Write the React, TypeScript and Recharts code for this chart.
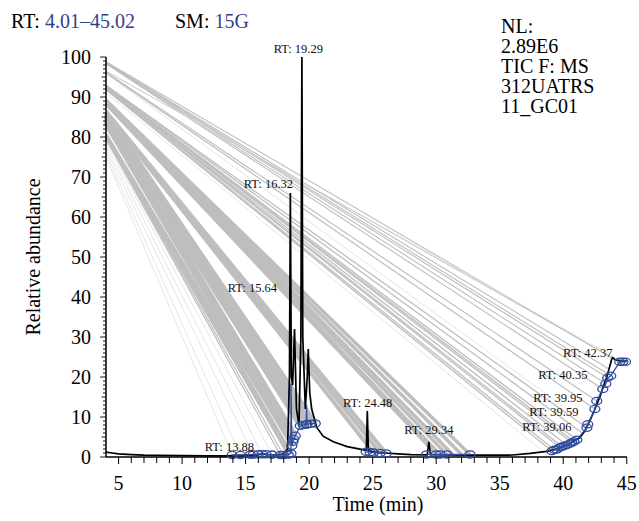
import { ComposedChart, Line, Scatter, XAxis, YAxis } from 'recharts';

const FONT = '"Liberation Serif", "Times New Roman", serif';
const BLUE = '#2f4c9e';
const GRAY = '#bebebe';
const LIGHT = '#dedede';

// chromatogram trace: [time (min), relative abundance]
const TRACE: [number, number][] = [
  [4.01, 1.2], [4.5, 1.0], [5, 0.8], [6, 0.6], [7, 0.45], [8, 0.4], [10, 0.35], [12, 0.3],
  [13.5, 0.3], [14, 0.35], [15, 0.4], [16, 0.5], [16.3, 0.9], [16.6, 0.6], [17.5, 0.5],
  [18.0, 0.8], [18.3, 2], [18.45, 20], [18.52, 66], [18.6, 20], [18.7, 18], [18.85, 32],
  [19.0, 12], [19.2, 8], [19.35, 30], [19.43, 100], [19.5, 30], [19.7, 12], [19.85, 20],
  [19.93, 27], [20.05, 16], [20.2, 12], [20.6, 7.4], [21.1, 5.2], [21.9, 3.8], [23.0, 2.6],
  [24.3, 1.8], [24.5, 1.7], [24.58, 11.5], [24.66, 1.6], [25, 1.3], [26, 1.0], [27, 0.8],
  [28, 0.6], [29.3, 0.55], [29.42, 3.8], [29.55, 0.6], [31, 0.5], [33, 0.45], [35, 0.45],
  [36, 0.5], [37.4, 0.9], [38.7, 1.4], [39.5, 2.0], [40.3, 3.0], [41.3, 4.8], [41.7, 6.5],
  [42.09, 9], [42.5, 12], [42.88, 15], [43.2, 18], [43.43, 20], [43.65, 22.5], [43.82, 24.5],
  [43.9, 24.8], [44.1, 24.3], [44.5, 24], [45.02, 24],
];

// fitted baseline points (circles); null breaks the line, third field 1 = no marker
const BASELINE: [number, number | null, number?][] = [
  [13.94, 0.5], [14.59, 0.5], [15.37, 0.6], [15.6, 0.6], [16.0, 0.7], [16.3, 0.7], [16.6, 0.7],
  [17.08, 0.6], [17.73, 0.5], [17.97, 0.5], [18.36, 0.6], [18.57, 0.9], [18.57, 18.3, 1],
  [18.64, 2.8], [18.72, 3.8], [18.78, 4.5], [18.91, 5.3], [19.3, 7.8], [19.55, 8.0], [19.77, 8.1],
  [19.8, 13, 1], [19.83, 8.2], [20.09, 8.3], [20.48, 8.4], [22, null],
  [24.49, 1.3], [24.8, 1.2], [25.06, 1.1], [25.59, 1.0], [26.06, 0.9], [27, null],
  [29.25, 0.65], [29.99, 0.65], [30.3, 0.65], [30.83, 0.65], [32.66, 0.65], [35, null],
  [39.11, 1.5], [39.3, 1.8], [39.5, 1.9], [39.73, 2.4], [39.9, 2.6], [40.1, 2.8], [40.28, 3.0],
  [40.5, 3.3], [40.68, 3.6], [40.85, 3.9], [41.07, 4.3], [41.86, 7.3], [41.93, 8.2], [42.49, 12],
  [42.64, 14], [43.11, 17], [43.35, 18.3], [43.5, 19.8], [43.74, 20.3], [44.45, 23.8],
  [44.69, 23.8], [44.9, 23.8],
];

// stray connector lines: [abundance at left edge, end time, end abundance, stroke width, light?]
const CONNECTORS: [number, number, number, number, number][] = [
  // from ~98.6
  [98.8, 43.9, 24.6, 1.1, 0], [98.7, 43.6, 22.0, 1.1, 0], [98.6, 43.74, 20.3, 1.1, 0],
  [98.5, 43.5, 19.8, 1.1, 0], [98.4, 43.35, 18.3, 1.1, 0], [98.3, 43.11, 17.0, 1.1, 0],
  // from ~96.3
  [96.5, 44.45, 23.8, 1.0, 0], [96.4, 44.69, 23.8, 0.8, 1], [96.2, 42.64, 14, 1.2, 0],
  [96.0, 42.49, 12, 1.2, 0], [95.8, 41.93, 8.2, 0.8, 1],
  // from ~92.6
  [92.9, 41.86, 7.3, 1.3, 0], [92.8, 41.5, 6.0, 1.3, 0], [92.7, 41.07, 4.3, 1.3, 0],
  [92.6, 40.85, 3.9, 1.3, 0], [92.5, 40.68, 3.6, 1.3, 0], [92.4, 40.28, 3.0, 1.3, 0],
  [92.3, 39.9, 2.6, 1.3, 0], [92.2, 39.73, 2.4, 1.3, 0], [92.0, 39.3, 1.8, 1.3, 0],
  [91.8, 39.11, 1.5, 1.3, 0], [91.0, 38.5, 1.1, 0.8, 1],
  // from ~88.8
  [89.2, 32.66, 0.65, 3.5, 0], [89.0, 32.0, 0.6, 3.5, 0], [88.8, 31.3, 0.6, 3.5, 0],
  [88.6, 30.83, 0.65, 3.5, 0], [88.4, 30.3, 0.65, 3, 0], [88.2, 29.99, 0.65, 3, 0],
  // from ~86 (wide band)
  [86.4, 26.06, 0.9, 4, 0], [86.2, 25.59, 1.0, 4, 0], [86.0, 25.06, 1.1, 4, 0],
  [85.8, 20.48, 8.4, 5, 0], [85.5, 20.09, 8.3, 5, 0], [85.2, 19.77, 8.1, 5, 0],
  [84.9, 19.55, 8.0, 5, 0], [84.6, 19.3, 7.8, 5, 0], [84.2, 18.91, 5.3, 5, 0],
  [83.8, 18.78, 4.5, 5, 0], [83.4, 18.72, 3.8, 5, 0],
  // from ~80
  [80.6, 18.64, 2.8, 3.5, 0], [80.3, 18.57, 0.9, 3.5, 0], [80.0, 18.36, 0.6, 3, 0],
  [79.8, 17.97, 0.5, 1.2, 0], [79.6, 17.73, 0.5, 1.2, 0],
  [79.0, 17.08, 0.6, 0.8, 1], [78.0, 16.3, 0.7, 0.8, 1], [77.0, 15.6, 0.6, 0.8, 1],
  [76.0, 14.59, 0.5, 0.8, 1], [75.0, 13.94, 0.5, 0.8, 1],
];

// peak annotations, anchored under the text
const RT_LABELS = [
  { label: 'RT: 19.29', t: 19.15, v: 99.9 },
  { label: 'RT: 16.32', t: 16.79, v: 66.2 },
  { label: 'RT: 15.64', t: 15.53, v: 40.2 },
  { label: 'RT: 13.88', t: 13.72, v: 0.4 },
  { label: 'RT: 24.48', t: 24.61, v: 11.5 },
  { label: 'RT: 29.34', t: 29.42, v: 4.85 },
  { label: 'RT: 39.06', t: 38.71, v: 5.4 },
  { label: 'RT: 39.59', t: 39.26, v: 9.2 },
  { label: 'RT: 39.95', t: 39.58, v: 12.7 },
  { label: 'RT: 40.35', t: 39.97, v: 18.4 },
  { label: 'RT: 42.37', t: 41.93, v: 24.0 },
];

const X_TICKS = Array.from({ length: 41 }, (_, i) => 5 + i);
const Y_TICKS = Array.from({ length: 101 }, (_, i) => i);
const INFO_LINES = ['NL:', '2.89E6', 'TIC F: MS', '312UATRS', '11_GC01'];

const traceData = TRACE.map(([t, v]) => ({ t, v }));
const baselineData = BASELINE.map(([t, v, s]) => ({ t, v, s: s ? 1 : 0 }));

function XTick(props: any) {
  const { x, y, payload } = props;
  const v = payload.value;
  const major = v % 5 === 0;
  return (
    <g>
      <line x1={x} x2={x} y1={y} y2={y + (major ? 7 : 6)} stroke="#000" strokeWidth={1} />
      {major && (
        <text x={x} y={y + 33} textAnchor="middle" fontSize={20} fontFamily={FONT} fill="#000">
          {v}
        </text>
      )}
    </g>
  );
}

function YTick(props: any) {
  const { x, y, payload } = props;
  const v = payload.value;
  const len = v % 10 === 0 ? 6 : v % 5 === 0 ? 4.5 : 3;
  return (
    <g>
      <line x1={x - len} x2={x} y1={y} y2={y} stroke="#000" strokeWidth={0.9} />
      {v % 10 === 0 && (
        <text x={x - 15} y={y + 7} textAnchor="end" fontSize={20} fontFamily={FONT} fill="#000">
          {v}
        </text>
      )}
    </g>
  );
}

function Ring(props: any) {
  const { cx, cy, payload, index } = props;
  if (cy == null || payload.v == null || payload.s) return <g key={`d-${index}`} />;
  return (
    <ellipse key={`d-${index}`} cx={cx} cy={cy} rx={5} ry={3.6} fill="none" stroke={BLUE} strokeWidth={1.3} />
  );
}

function RtText(props: any) {
  const { cx, cy, payload } = props;
  return (
    <text x={cx} y={cy - 4} textAnchor="middle" fontSize={12.5} fontFamily={FONT} fill="#111">
      {payload.label}
    </text>
  );
}

export default function App() {
  return (
    <div style={{ position: 'absolute', left: 0, top: 0, width: 639, height: 521, background: '#fff' }}>
      <ComposedChart width={639} height={521} margin={{ top: 57, right: 12, left: 0, bottom: 0 }}>
        <XAxis
          type="number"
          dataKey="t"
          domain={[4.01, 45.02]}
          ticks={X_TICKS}
          interval={0}
          tickSize={0}
          tickMargin={0}
          tickLine={false}
          tick={<XTick />}
          axisLine={{ stroke: '#000', strokeWidth: 1.5 }}
          height={64}
        />
        <YAxis
          type="number"
          dataKey="v"
          domain={[0, 100]}
          ticks={Y_TICKS}
          interval={0}
          tickSize={0}
          tickMargin={0}
          tickLine={false}
          tick={<YTick />}
          axisLine={{ stroke: '#000', strokeWidth: 1.5 }}
          width={106}
        />
        {CONNECTORS.map(([s, et, ev, w, light], i) => (
          <Line
            key={`c-${i}`}
            data={[{ t: 4.01, v: s }, { t: et, v: ev }]}
            dataKey="v"
            type="linear"
            stroke={light ? LIGHT : GRAY}
            strokeWidth={w}
            dot={false}
            activeDot={false}
            isAnimationActive={false}
          />
        ))}
        <Line
          data={traceData}
          dataKey="v"
          type="linear"
          stroke="#000"
          strokeWidth={1.7}
          dot={false}
          activeDot={false}
          isAnimationActive={false}
        />
        <Line
          data={baselineData}
          dataKey="v"
          type="linear"
          stroke={BLUE}
          strokeWidth={1.3}
          dot={<Ring />}
          activeDot={false}
          isAnimationActive={false}
        />
        <Scatter data={RT_LABELS} dataKey="v" shape={<RtText />} isAnimationActive={false} />
      </ComposedChart>
      <svg width={639} height={521} style={{ position: 'absolute', left: 0, top: 0, pointerEvents: 'none' }}>
        <text x={11} y={28} fontSize={20} fontFamily={FONT} fill="#000">
          RT: <tspan fill="#343f8c">4.01–45.02</tspan>
        </text>
        <text x={175} y={28} fontSize={20} fontFamily={FONT} fill="#000">
          SM: <tspan fill="#343f8c">15G</tspan>
        </text>
        {INFO_LINES.map((s, i) => (
          <text key={s} x={501} y={33 + i * 20} fontSize={20} fontFamily={FONT} fill="#000">
            {s}
          </text>
        ))}
        <text
          x={40}
          y={257}
          transform="rotate(-90 40 257)"
          textAnchor="middle"
          fontSize={20}
          fontFamily={FONT}
          fill="#000"
        >
          Relative abundance
        </text>
        <text x={378} y={511} textAnchor="middle" fontSize={20} fontFamily={FONT} fill="#000">
          Time (min)
        </text>
      </svg>
    </div>
  );
}
